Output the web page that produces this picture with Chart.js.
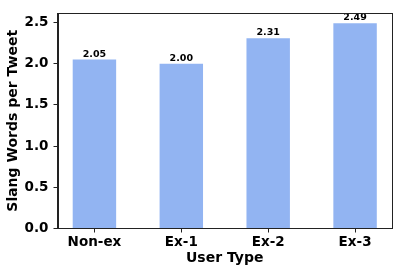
<!DOCTYPE html>
<html>
<head>
<meta charset="utf-8">
<script src="https://cdn.jsdelivr.net/npm/chart.js@4"></script>
<style>
  html, body { margin: 0; padding: 0; background: #fff; }
  #wrap { width: 402px; height: 274px; }
</style>
</head>
<body>
<div id="wrap"><canvas id="chart"></canvas></div>
<script>
var userTypes = ['Non-ex', 'Ex-1', 'Ex-2', 'Ex-3'];
var slangPerTweet = [2.05, 2.00, 2.31, 2.49];
var yTicks = [0, 0.5, 1.0, 1.5, 2.0, 2.5];

var fontFamily = '"DejaVu Sans", sans-serif';
var axisColor = '#222';

// box round the plot area, like matplotlib spines
var frame = {
    id: 'frame',
    afterDraw: function (chart) {
        var a = chart.chartArea;
        var ctx = chart.ctx;
        ctx.save();
        ctx.strokeStyle = axisColor;
        ctx.lineWidth = 1;
        ctx.strokeRect(Math.round(a.left) + 0.5, Math.round(a.top) + 0.5,
            Math.round(a.right - a.left) - 1, Math.round(a.bottom - a.top));
        ctx.restore();
    }
};

// numbers on top of the bars
var barLabels = {
    id: 'barLabels',
    afterDatasetsDraw: function (chart) {
        var ctx = chart.ctx;
        var meta = chart.getDatasetMeta(0);
        ctx.save();
        ctx.font = 'bold 9.5px ' + fontFamily;
        ctx.fillStyle = '#000';
        ctx.textAlign = 'center';
        ctx.textBaseline = 'alphabetic';
        meta.data.forEach(function (bar, i) {
            ctx.fillText(slangPerTweet[i].toFixed(2), bar.x, bar.y - 3);
        });
        ctx.restore();
    }
};

new Chart(document.getElementById('chart'), {
    type: 'bar',
    data: {
        datasets: [{
            data: slangPerTweet.map(function (v, i) { return { x: i, y: v }; }),
            backgroundColor: '#92b4f2',
            borderWidth: 0,
            barPercentage: 0.5,
            categoryPercentage: 1.0
        }]
    },
    options: {
        responsive: true,
        maintainAspectRatio: false,
        animation: false,
        layout: { padding: { left: 0, top: 10, right: 10, bottom: 0 } },
        plugins: {
            legend: { display: false },
            tooltip: { enabled: false }
        },
        scales: {
            x: {
                type: 'linear',
                offset: false,
                min: -0.425,
                max: 3.425,
                afterBuildTicks: function (axis) {
                    axis.ticks = userTypes.map(function (c, i) { return { value: i }; });
                },
                afterFit: function (axis) { axis.height = 45.5; },
                grid: {
                    display: true,
                    offset: false,
                    drawOnChartArea: false,
                    drawTicks: true,
                    tickLength: 4,
                    color: axisColor
                },
                border: { display: true, color: axisColor },
                ticks: {
                    color: '#000',
                    padding: 2,
                    maxRotation: 0,
                    autoSkip: false,
                    font: { family: fontFamily, size: 13.5, weight: 'bold' },
                    callback: function (v) { return userTypes[v]; }
                },
                title: {
                    display: true,
                    text: 'User Type',
                    color: '#000',
                    padding: { top: 0, bottom: 7 },
                    font: { family: fontFamily, size: 14, weight: 'bold' }
                }
            },
            y: {
                min: 0,
                max: 2.6145,
                afterBuildTicks: function (axis) {
                    axis.ticks = yTicks.map(function (v) { return { value: v }; });
                },
                afterFit: function (axis) { axis.width = 57.5; },
                grid: {
                    display: true,
                    drawOnChartArea: false,
                    drawTicks: true,
                    tickLength: 4,
                    color: axisColor
                },
                border: { display: true, color: axisColor },
                ticks: {
                    color: '#000',
                    padding: 5,
                    font: { family: fontFamily, size: 13.5, weight: 'bold' },
                    callback: function (v) { return Number(v).toFixed(1); }
                },
                title: {
                    display: true,
                    text: 'Slang Words per Tweet',
                    color: '#000',
                    padding: { top: 5, bottom: 0 },
                    font: { family: fontFamily, size: 14, weight: 'bold' }
                }
            }
        }
    },
    plugins: [frame, barLabels]
});
</script>
</body>
</html>
